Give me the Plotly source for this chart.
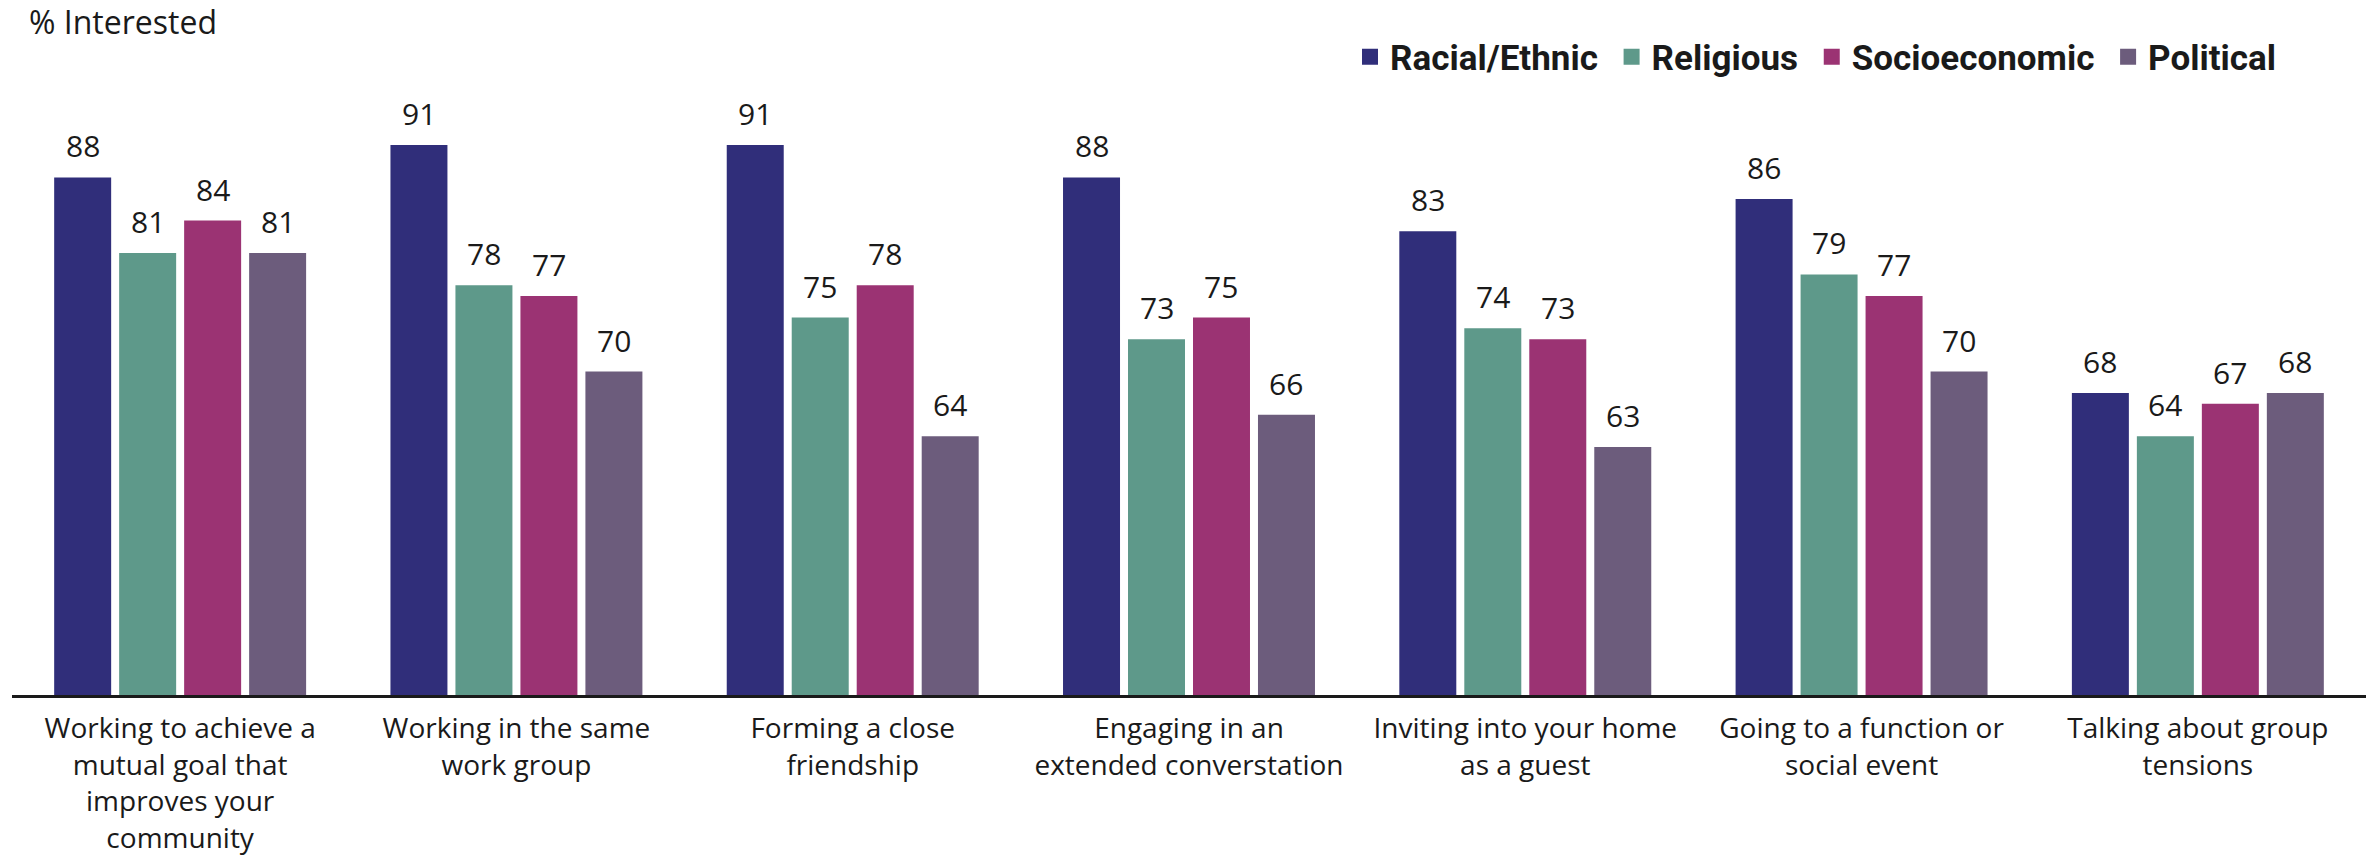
import plotly.graph_objects as go

categories = [
    "Working to achieve a<br>mutual goal that<br>improves your<br>community",
    "Working in the same<br>work group",
    "Forming a close<br>friendship",
    "Engaging in an<br>extended converstation",
    "Inviting into your home<br>as a guest",
    "Going to a function or<br>social event",
    "Talking about group<br>tensions",
]
series_names = ["Racial/Ethnic", "Religious", "Socioeconomic", "Political"]
racial_ethnic = [88, 91, 91, 88, 83, 86, 68]
religious = [81, 78, 75, 73, 74, 79, 64]
socioeconomic = [84, 77, 78, 75, 73, 77, 67]
political = [81, 70, 64, 66, 63, 70, 68]
series_values = [racial_ethnic, religious, socioeconomic, political]
colors = ["#302E7A", "#5E998A", "#9B3373", "#6C5C7C"]

W, H = 2371, 855
ML, MR, MT, MB = 12, 5, 48, 160
BARGAP = 0.227
GROUPGAP = 0.123
TEXT = "#1a1a1a"
REG = "Open Sans, Lato, sans-serif"

fig = go.Figure()
for name, vals, col in zip(series_names, series_values, colors):
    fig.add_trace(go.Bar(
        x=categories, y=vals, name=name, marker=dict(color=col, line=dict(width=0)),
        showlegend=False, hoverinfo="y+name",
    ))
# legend entries with larger square swatches
for name, col in zip(series_names, colors):
    fig.add_trace(go.Scatter(
        x=[None], y=[None], mode="markers", name=name + "\u00a0",
        marker=dict(symbol="square", size=16, color=col, line=dict(width=0)),
        showlegend=True,
    ))

# value labels above bars
plot_w = W - ML - MR
group_w = plot_w / len(categories)
slot = group_w * (1 - BARGAP) / len(series_names)
for i, vals in enumerate(series_values):
    for cat, v in zip(categories, vals):
        fig.add_annotation(
            x=cat, y=v, text=str(v), showarrow=False,
            xanchor="center", yanchor="bottom",
            xshift=(i - 1.5) * slot, yshift=9,
            font=dict(family=REG, size=30, color=TEXT),
        )

fig.update_layout(
    width=W, height=H,
    margin=dict(l=ML, r=MR, t=MT, b=MB, autoexpand=False),
    paper_bgcolor="white", plot_bgcolor="white",
    barmode="group", bargap=BARGAP, bargroupgap=GROUPGAP,
    title=dict(text="% Interested", x=29 / W, xanchor="left", xref="container",
               y=1 - 23 / H, yanchor="middle", yref="container",
               font=dict(family=REG, size=32, color=TEXT)),
    legend=dict(orientation="h", x=(1350 - ML) / plot_w, xanchor="left",
                y=1 - 57 / H, yanchor="middle", yref="container",
                font=dict(family="Roboto, sans-serif", size=35, color=TEXT, weight="bold"),
                itemclick=False, bgcolor="rgba(0,0,0,0)", tracegroupgap=0),
    showlegend=True,
    xaxis=dict(showline=True, linecolor="#1a1a1a", linewidth=2.5, ticks="",
               tickfont=dict(family=REG, size=28, color=TEXT), showgrid=False,
               zeroline=False, automargin=False, ticklabelstandoff=7),
    yaxis=dict(range=[40, 100], visible=False, showgrid=False, zeroline=False,
               automargin=False),
)

fig.write_html("out.html", config={"displayModeBar": False},
               post_script="document.body.style.margin='0';")
